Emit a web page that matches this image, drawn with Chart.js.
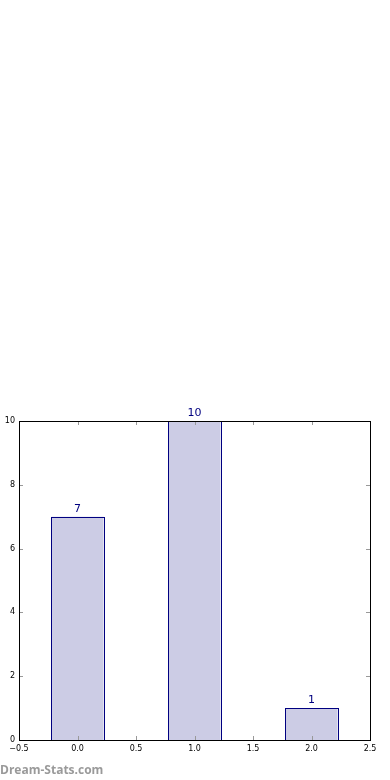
<!DOCTYPE html>
<html>
<head>
<meta charset="utf-8">
<script src="https://cdn.jsdelivr.net/npm/chart.js@4"></script>
<style>
	html, body { margin: 0; padding: 0; background: #fff; }
	#wrap { position: relative; width: 390px; height: 780px; }
	#mark {
		position: absolute; left: 0; top: 761px;
		font: bold 12px 'Open Sans', sans-serif; color: #9a9a9a;
	}
</style>
</head>
<body>
<div id="wrap">
	<canvas id="chart" width="390" height="780"></canvas>
	<div id="mark">Dream-Stats.com</div>
</div>
<script>
const positions = [0, 1, 2]
const counts = [7, 10, 1]
const xTicks = [-0.5, 0, 0.5, 1, 1.5, 2, 2.5]
const yTicks = [0, 2, 4, 6, 8, 10]

//matplotlib style frame with inward ticks on all sides
const framePlugin = {
	id: 'frame',
	afterDraw: chart => {
		const ctx = chart.ctx
		const a = chart.chartArea
		const x = chart.scales.x
		const y = chart.scales.y
		ctx.save()
		ctx.strokeStyle = '#999'
		ctx.lineWidth = 1
		ctx.beginPath()
		for (const t of xTicks) {
			const px = Math.round(x.getPixelForValue(t)) + 0.5
			ctx.moveTo(px, a.bottom)
			ctx.lineTo(px, a.bottom - 4)
			ctx.moveTo(px, a.top)
			ctx.lineTo(px, a.top + 4)
		}
		for (const t of yTicks) {
			const py = Math.round(y.getPixelForValue(t)) + 0.5
			ctx.moveTo(a.left, py)
			ctx.lineTo(a.left + 4, py)
			ctx.moveTo(a.right, py)
			ctx.lineTo(a.right - 4, py)
		}
		ctx.stroke()
		ctx.strokeStyle = '#000'
		ctx.strokeRect(Math.round(a.left) + 0.5, Math.round(a.top) + 0.5,
			Math.round(a.right - a.left), Math.round(a.bottom - a.top))
		ctx.restore()
	},
}

//crisp bar outlines + value labels above each bar
const labelPlugin = {
	id: 'barLabels',
	afterDatasetsDraw: chart => {
		const ctx = chart.ctx
		const meta = chart.getDatasetMeta(0)
		ctx.save()
		ctx.strokeStyle = '#000080'
		ctx.lineWidth = 1
		meta.data.forEach(el => {
			const l = Math.round(el.x - el.width / 2) + 0.5
			const r = Math.round(el.x + el.width / 2) + 0.5
			const t = Math.round(el.y) + 0.5
			const b = Math.round(el.base) + 0.5
			ctx.strokeRect(l, t, r - l, b - t)
		})
		ctx.fillStyle = '#000080'
		ctx.font = '11px "DejaVu Sans"'
		ctx.textAlign = 'center'
		ctx.textBaseline = 'alphabetic'
		meta.data.forEach((el, i) => {
			ctx.fillText(String(counts[i]), el.x, el.y - 5)
		})
		ctx.restore()
	},
}

const tickFont = { family: 'DejaVu Sans', size: 8 }

new Chart(document.querySelector('#chart').getContext('2d'), {
	type: 'bar',
	data: {
		datasets: [{
			data: positions.map((p, i) => ({ x: p, y: counts[i] })),
			backgroundColor: 'rgb(204, 204, 229)',
			borderWidth: 0,
			barPercentage: 0.89,
			categoryPercentage: 1,
		}],
	},
	options: {
		responsive: false,
		animation: false,
		layout: { padding: { top: 421, right: 20, left: 0, bottom: 0 } },
		plugins: { legend: { display: false }, tooltip: { enabled: false } },
		scales: {
			x: {
				type: 'linear',
				offset: false,
				min: -0.5,
				max: 2.5,
				grid: { display: false, drawTicks: false },
				border: { display: false },
				afterFit: s => { s.height = 40 },
				afterBuildTicks: s => { s.ticks = xTicks.map(v => ({ value: v })) },
				ticks: {
					color: '#000',
					font: tickFont,
					padding: 4,
					maxRotation: 0,
					autoSkip: false,
					callback: v => (v < 0 ? '\u2212' : '') + Math.abs(v).toFixed(1),
				},
			},
			y: {
				min: 0,
				max: 10,
				grid: { display: false, drawTicks: false },
				border: { display: false },
				afterFit: s => { s.width = 19 },
				afterBuildTicks: s => { s.ticks = yTicks.map(v => ({ value: v })) },
				ticks: {
					color: '#000',
					font: tickFont,
					padding: 4,
					autoSkip: false,
				},
			},
		},
	},
	plugins: [framePlugin, labelPlugin],
})
</script>
</body>
</html>
